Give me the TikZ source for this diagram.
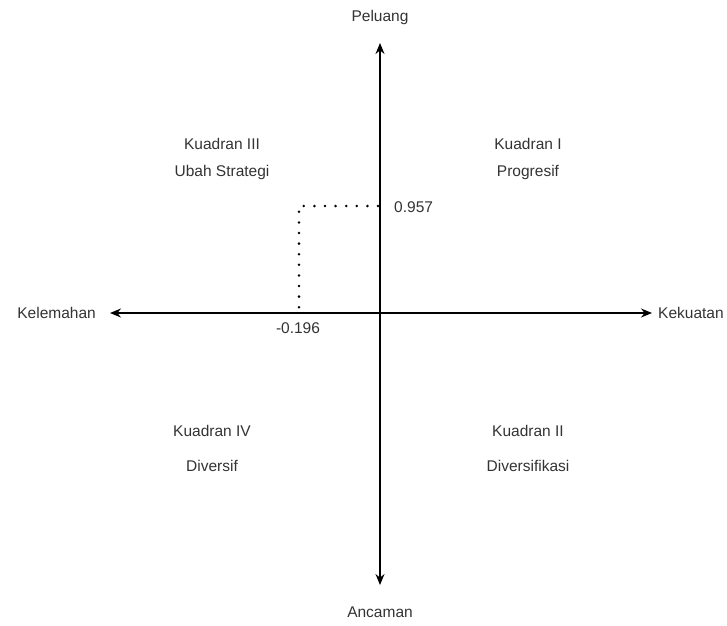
\documentclass[tikz,border=0pt]{standalone}
\usepackage{fontspec}
\setmainfont{Liberation Sans}
\usetikzlibrary{arrows.meta}
\definecolor{txt}{HTML}{333333}
\begin{document}
\begin{tikzpicture}[x=1pt,y=-1pt,
  lbl/.style={font=\fontsize{15.5}{18}\selectfont, text=txt, inner sep=0pt},
  axis/.style={line width=1.3pt, -{Stealth[length=11pt,width=9pt]}},
  dots/.style={line width=2.8pt, line cap=round, dash pattern=on 0pt off 10.6pt}]
\useasboundingbox (0,0) rectangle (727,625);
\coordinate (o) at (380,313);
\coordinate (top) at (380,43);
\coordinate (bot) at (380,585);
\coordinate (left) at (110,313);
\coordinate (right) at (652,313);
\coordinate (p) at (299,206);
\coordinate (py) at (378,206);
\coordinate (px) at (299,312);
\draw[axis] (o) -- (top);
\draw[axis] (o) -- (bot);
\draw[axis] (o) -- (left);
\draw[axis] (o) -- (right);
\draw[dots] (py) -- (p) -- (px);
\node[lbl] (peluang) at (380,17) {Peluang};
\node[lbl] (ancaman) at (380,612) {Ancaman};
\node[lbl,anchor=east] (kelemahan) at (96,313) {Kelemahan};
\node[lbl,anchor=west] (kekuatan) at (658,313) {Kekuatan};
\node[lbl,anchor=west] (vy) at (394,207) {0.957};
\node[lbl] (vx) at (298,328) {-0.196};
\node[lbl] (k3a) at (222,144) {Kuadran III};
\node[lbl] (k3b) at (222,172) {Ubah Strategi};
\node[lbl] (k1a) at (528,144) {Kuadran I};
\node[lbl] (k1b) at (528,172) {Progresif};
\node[lbl] (k4a) at (212,431) {Kuadran IV};
\node[lbl] (k4b) at (212,466) {Diversif};
\node[lbl] (k2a) at (528,431) {Kuadran II};
\node[lbl] (k2b) at (528,466) {Diversifikasi};
\end{tikzpicture}
\end{document}
